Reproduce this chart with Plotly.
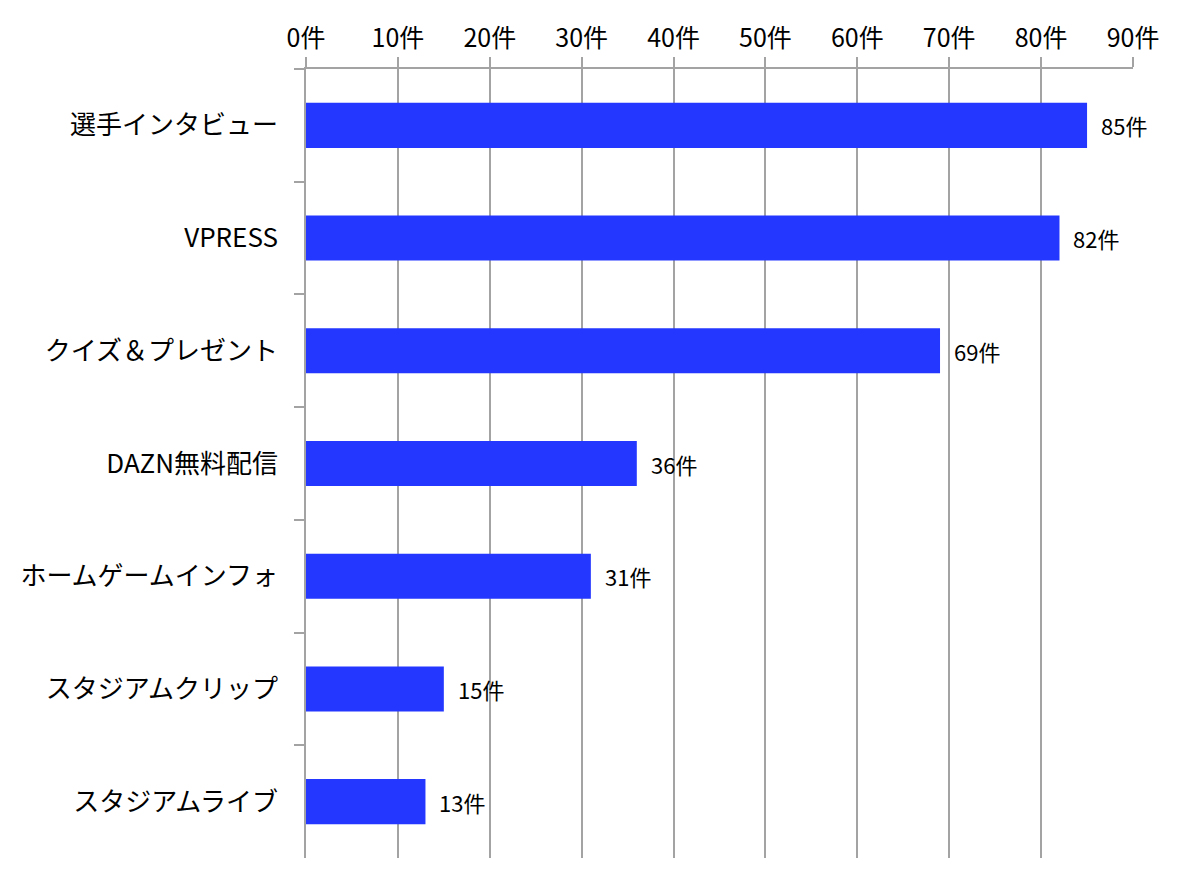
import plotly.graph_objects as go

categories = ["選手インタビュー", "VPRESS", "クイズ＆プレゼント", "DAZN無料配信",
              "ホームゲームインフォ", "スタジアムクリップ", "スタジアムライブ"]
values = [85, 82, 69, 36, 31, 15, 13]
x_ticks = [0, 10, 20, 30, 40, 50, 60, 70, 80, 90]
unit = "件"

FONT = "Noto Sans CJK JP, Noto Sans, sans-serif"
GRID = "#a3a3a3"
BAR = "#2337FF"

fig = go.Figure()
fig.add_trace(go.Bar(
    y=categories, x=values, orientation="h",
    marker=dict(color=BAR, line=dict(width=0)),
    width=0.40,
    hoverinfo="skip",
))

for c, v in zip(categories, values):
    fig.add_annotation(
        x=v, y=c, text=f"{v}{unit}", showarrow=False,
        xanchor="left", yanchor="middle", xshift=12, yshift=0,
        font=dict(family=FONT, size=22, color="#000"),
    )

fig.update_layout(
    width=1173, height=879,
    margin=dict(l=298, r=48, t=61, b=29, autoexpand=False),
    plot_bgcolor="white", paper_bgcolor="white",
    showlegend=False,
    font=dict(family=FONT, color="#000"),
    bargap=0.6,
)
fig.update_xaxes(
    side="top", range=[0, 90], tickvals=x_ticks,
    ticktext=[f"{t}{unit}" for t in x_ticks],
    showgrid=True, gridcolor=GRID, gridwidth=1.5,
    showline=True, linecolor=GRID, linewidth=1.5,
    ticks="outside", ticklen=10, tickcolor=GRID, tickwidth=1.5,
    tickfont=dict(family=FONT, size=25, color="#000"),
    zeroline=False, fixedrange=True, automargin=False,
)
fig.update_yaxes(
    categoryorder="array", categoryarray=categories,
    range=[6.5, -0.5],
    showgrid=False, zeroline=False,
    showline=True, linecolor=GRID, linewidth=1.5,
    ticks="outside", ticklen=10, tickcolor=GRID, tickwidth=1.5,
    tickson="boundaries",
    ticklabelstandoff=21,
    tickfont=dict(family=FONT, size=26, color="#000"),
    fixedrange=True, automargin=False,
)

fig.write_html("out.html")
